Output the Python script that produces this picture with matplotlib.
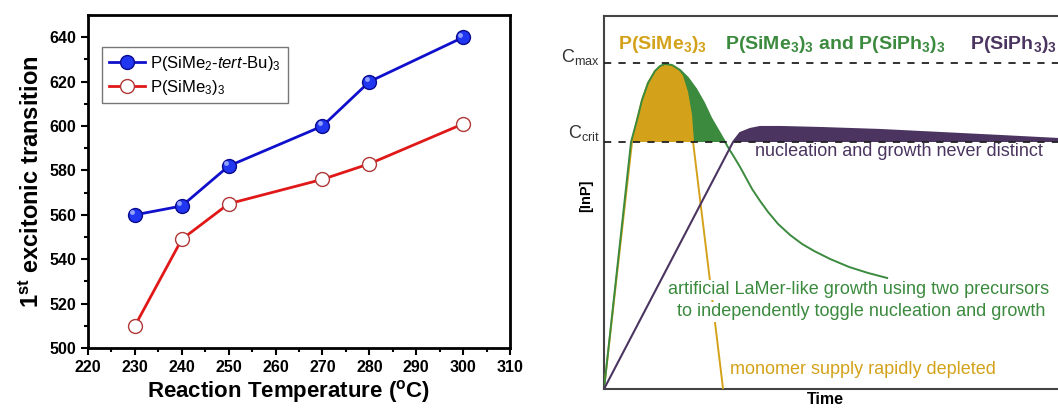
import numpy as np
import matplotlib
matplotlib.use('Agg')
import matplotlib.pyplot as plt
from matplotlib.transforms import ScaledTranslation

plt.rcParams['font.family'] = 'Liberation Sans'
plt.rcParams['mathtext.fontset'] = 'custom'
plt.rcParams['mathtext.rm'] = 'Liberation Sans'
plt.rcParams['mathtext.it'] = 'Liberation Sans:italic'
plt.rcParams['mathtext.bf'] = 'Liberation Sans:bold'

# left panel data
temps = [230, 240, 250, 270, 280, 300]
tert_bu = [560, 564, 582, 600, 620, 640]
sime3 = [510, 549, 565, 576, 583, 601]

# right panel schematic (time, [InP])
c_crit = 247
c_max = 326
yellow_t = [0, 14, 28, 33, 38, 44, 51, 61, 71, 78, 83, 87, 89, 104, 119]
yellow_c = [0, 124, 247, 269, 289, 306, 318, 325, 322, 313, 297, 274, 247, 124, 0]
green_t = [0, 27, 33, 38, 44, 51, 56, 61, 68, 76, 84, 92, 100, 107, 114, 121,
           125, 130, 136, 142, 148, 156, 164, 174, 186, 198, 210, 226, 245, 264, 283]
green_c = [0, 247, 269, 289, 306, 318, 323, 325, 324, 319, 311, 300, 286, 271, 259, 247,
           240, 232, 222, 211, 200, 188, 177, 165, 154, 145, 138, 130, 122, 116, 111]
purple_t = [0, 129, 136, 146, 156, 176, 216, 276, 336, 396, 454, 496]
purple_c = [0, 247, 256, 260, 262, 262, 261, 259, 256, 253, 250, 248]

YEL = '#D4A21A'
GRN = '#3B8A3E'
PUR = '#4B3560'

fig = plt.figure(figsize=(10.58, 4.08), dpi=100)

# ---- left: excitonic transition vs temperature
ax = fig.add_axes([0.0832, 0.147, 0.3989, 0.816])
ax.plot(temps, tert_bu, color='#1010CC', lw=2, marker='o', ms=10,
        mfc='#2036F0', mec='#0A0A90', mew=1, label=r'P(SiMe$_2$-$\it{tert}$-Bu)$_3$', zorder=3)
hl = ax.transData + ScaledTranslation(-2/72, 2/72, fig.dpi_scale_trans)
ax.plot(temps, tert_bu, ls='none', marker='o', ms=3.5, mfc='#8FA0FF', mec='none',
        transform=hl, zorder=4)
ax.plot(temps, sime3, color='#E01818', lw=2, marker='o', ms=10,
        mfc='white', mec='#B03838', mew=1, label=r'P(SiMe$_3$)$_3$', zorder=3)

ax.set_xlim(220, 310)
ax.set_ylim(500, 650)
ax.set_xticks(np.arange(220, 311, 10))
ax.set_xticks(np.arange(225, 310, 10), minor=True)
ax.set_yticks(np.arange(500, 641, 20))
ax.set_yticks(np.arange(510, 650, 20), minor=True)
ax.tick_params(which='both', direction='out', width=1.5, labelsize=11.5)
ax.tick_params(which='major', length=5)
ax.tick_params(which='minor', length=3)
for lab in ax.get_xticklabels() + ax.get_yticklabels():
    lab.set_fontweight('bold')
for s in ax.spines.values():
    s.set_linewidth(2)
ax.set_xlabel(r'Reaction Temperature ($^{\bf o}$C)', fontsize=16, fontweight='bold')
ax.xaxis.set_label_coords(0.475, -0.09)
ax.set_ylabel(r'1$^{\bf st}$ excitonic transition', fontsize=17, fontweight='bold', labelpad=4)
leg = ax.legend(loc='upper left', bbox_to_anchor=(0.033, 0.904), borderaxespad=0,
                fancybox=False, edgecolor='#555555', fontsize=12, handlelength=2.2,
                handletextpad=0.3, borderpad=0.4, labelspacing=0.3)
leg.get_frame().set_linewidth(1)

# ---- right: LaMer-type schematic
ax2 = fig.add_axes([0.5709, 0.0466, 0.469, 0.9142])
ax2.set_xlim(0, 496)
ax2.set_ylim(0, 373)
ax2.set_xticks([])
ax2.set_yticks([])
for s in ax2.spines.values():
    s.set_linewidth(1.5)
    s.set_color('#444444')

gt, gc = np.array(green_t), np.array(green_c)
yt, yc = np.array(yellow_t), np.array(yellow_c)
pt, pc = np.array(purple_t), np.array(purple_c)
m = gc >= c_crit
ax2.fill(gt[m], gc[m], color=GRN, lw=0, zorder=2)
m = yc >= c_crit
ax2.fill(yt[m], yc[m], color=YEL, lw=0, zorder=2)
m = pc >= c_crit
ax2.fill(np.r_[pt[m], pt[m][-1]], np.r_[pc[m], c_crit], color=PUR, lw=0, zorder=2)

ax2.plot(yellow_t, yellow_c, color=YEL, lw=1.4, zorder=3)
ax2.plot(green_t, green_c, color=GRN, lw=1.4, zorder=3)
ax2.plot(purple_t, purple_c, color=PUR, lw=1.5, zorder=3)

ax2.axhline(c_max, color='#222222', lw=1.3, ls=(0, (4, 4)), zorder=4)
ax2.axhline(c_crit, color='#222222', lw=1.3, ls=(0, (4, 4)), zorder=4)

ax2.text(-4, 332, r'C$_{\rm max}$', ha='right', va='center', fontsize=13, color='#333333', clip_on=False)
ax2.text(-4, 256, r'C$_{\rm crit}$', ha='right', va='center', fontsize=13, color='#333333', clip_on=False)
ax2.text(-18, 193, '[InP]', rotation=90, ha='center', va='center', fontsize=10.5,
         fontweight='bold', clip_on=False)
ax2.text(221, -11, 'Time', ha='center', va='center', fontsize=11.5, fontweight='bold', clip_on=False)

ax2.text(14, 344, r'P(SiMe$_{\bf 3}$)$_{\bf 3}$', color=YEL, fontsize=14, fontweight='bold', va='center')
ax2.text(121, 344, r'P(SiMe$_{\bf 3}$)$_{\bf 3}$ and P(SiPh$_{\bf 3}$)$_{\bf 3}$', color=GRN,
         fontsize=14, fontweight='bold', va='center')
ax2.text(366, 344, r'P(SiPh$_{\bf 3}$)$_{\bf 3}$', color=PUR, fontsize=14, fontweight='bold', va='center')

ax2.text(151, 237, 'nucleation and growth never distinct', color=PUR, fontsize=13, va='center', zorder=5)
box = dict(facecolor='white', edgecolor='none', pad=1)
ax2.text(64, 99, 'artificial LaMer-like growth using two precursors', color=GRN, fontsize=13,
         va='center', zorder=5, bbox=box)
ax2.text(73, 77, 'to independently toggle nucleation and growth', color=GRN, fontsize=13,
         va='center', zorder=5, bbox=box)
ax2.text(126, 19, 'monomer supply rapidly depleted', color=YEL, fontsize=13, va='center', zorder=5)

fig.savefig('out.png', dpi=100)
